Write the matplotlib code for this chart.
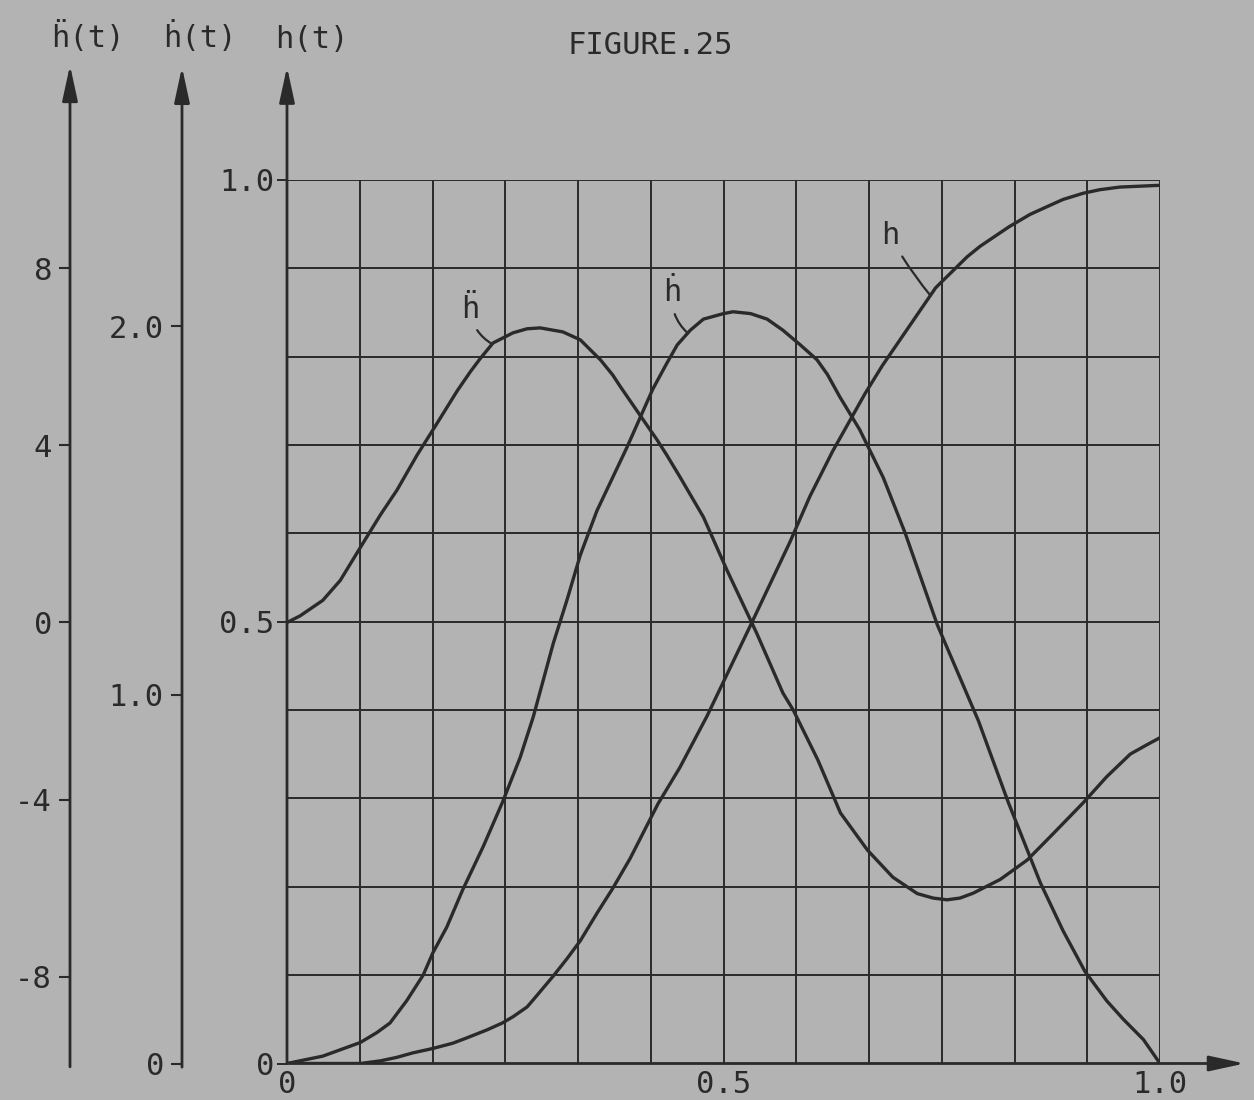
import numpy as np
import matplotlib
matplotlib.use('Agg')
import matplotlib.pyplot as plt

plt.rcParams['font.family'] = ['DejaVu Sans Mono', 'DejaVu Sans']

# h(t)
t_h = [0, 0.084, 0.107, 0.126, 0.144, 0.167, 0.190, 0.206, 0.229, 0.247, 0.259, 0.275,
       0.282, 0.305, 0.321, 0.336, 0.355, 0.373, 0.393, 0.425, 0.450, 0.481, 0.530, 0.576,
       0.599, 0.625, 0.662, 0.682, 0.743, 0.779, 0.794, 0.827, 0.851, 0.871, 0.889, 0.912,
       0.931, 0.954, 0.977, 1.0]
h = [0, 0.0, 0.003, 0.007, 0.012, 0.017, 0.023, 0.029, 0.038, 0.046, 0.053, 0.064,
     0.072, 0.099, 0.119, 0.139, 0.170, 0.198, 0.232, 0.294, 0.335, 0.393, 0.494, 0.590,
     0.642, 0.693, 0.758, 0.790, 0.878, 0.913, 0.925, 0.947, 0.961, 0.970, 0.978, 0.985,
     0.989, 0.992, 0.993, 0.994]

# h'(t)
t_hp = [0, 0.041, 0.084, 0.103, 0.118, 0.137, 0.156, 0.167, 0.183, 0.201, 0.213, 0.225,
        0.247, 0.267, 0.282, 0.305, 0.321, 0.336, 0.355, 0.373, 0.389, 0.404, 0.419, 0.435,
        0.447, 0.462, 0.477, 0.500, 0.511, 0.531, 0.550, 0.568, 0.588, 0.607, 0.619, 0.633,
        0.656, 0.683, 0.708, 0.745, 0.792, 0.826, 0.863, 0.889, 0.914, 0.939, 0.958, 0.981, 1.0]
hp = [0, 0.02, 0.057, 0.084, 0.11, 0.17, 0.24, 0.30, 0.37, 0.47, 0.53, 0.59,
      0.71, 0.83, 0.94, 1.14, 1.26, 1.38, 1.50, 1.59, 1.67, 1.75, 1.83, 1.90,
      1.95, 1.99, 2.02, 2.035, 2.04, 2.035, 2.02, 1.99, 1.95, 1.91, 1.87, 1.81,
      1.72, 1.59, 1.44, 1.19, 0.93, 0.71, 0.49, 0.36, 0.25, 0.17, 0.12, 0.065, 0.0]

# h''(t)
t_hpp = [0, 0.015, 0.041, 0.061, 0.087, 0.107, 0.126, 0.149, 0.172, 0.195, 0.210, 0.221,
         0.236, 0.259, 0.275, 0.290, 0.316, 0.336, 0.359, 0.373, 0.382, 0.404, 0.424, 0.435,
         0.450, 0.477, 0.504, 0.538, 0.568, 0.580, 0.608, 0.634, 0.665, 0.694, 0.722, 0.740,
         0.756, 0.771, 0.786, 0.817, 0.848, 0.877, 0.912, 0.939, 0.966, 0.985, 1.0]
hpp = [0, 0.15, 0.50, 0.95, 1.79, 2.43, 2.99, 3.78, 4.50, 5.23, 5.66, 5.95,
       6.31, 6.54, 6.63, 6.65, 6.56, 6.38, 5.93, 5.59, 5.32, 4.69, 4.12, 3.78,
       3.29, 2.38, 1.18, -0.24, -1.59, -1.98, -3.10, -4.30, -5.14, -5.75, -6.12, -6.22,
       -6.26, -6.22, -6.11, -5.80, -5.36, -4.78, -4.07, -3.48, -2.97, -2.76, -2.60]

x_ticks = [0, 0.5, 1.0]
x_labels = ['0', '0.5', '1.0']
h_ticks = [0, 0.5, 1.0]
h_labels = ['0', '0.5', '1.0']
hp_ticks = [0, 1, 2]
hp_labels = ['0', '1.0', '2.0']
hpp_ticks = [-8, -4, 0, 4, 8]
hpp_labels = ['-8', '-4', '0', '4', '8']

bg = '#b3b3b3'
ink = '#2a2a2a'
W, H = 1254, 1100
fs = 22

fig = plt.figure(figsize=(12.54, 11.0), dpi=100, facecolor=bg)
ax = fig.add_axes([287 / W, 1 - 1063.5 / H, 873 / W, 883.5 / H])
ax.set_facecolor(bg)
ax.set_xlim(0, 1)
ax.set_ylim(0, 1)

# papel milimetrado
ax.set_xticks(np.arange(13) / 12, minor=True)
ax.set_yticks(np.arange(11) / 10, minor=True)
ax.set_xticks(x_ticks)
ax.set_xticklabels(x_labels)
ax.set_yticks(h_ticks)
ax.set_yticklabels(h_labels)
ax.grid(True, which='both', color=ink, lw=1.4)
ax.tick_params(which='minor', length=0)
ax.tick_params(axis='x', length=0, pad=5, labelsize=fs, colors=ink)
ax.tick_params(axis='y', length=7, width=1.4, pad=2, labelsize=fs, colors=ink)
for s in ax.spines.values():
    s.set_visible(False)

ax2 = ax.twinx()
ax2.set_ylim(0, 883.5 / 368.5)
ax3 = ax.twinx()
ax3.set_ylim(-441 / 44.3, 442.5 / 44.3)

pos2 = (182 - 287) / 873
pos3 = (70 - 287) / 873
for a, p, tk, lb in [(ax2, pos2, hp_ticks, hp_labels), (ax3, pos3, hpp_ticks, hpp_labels)]:
    for s in a.spines.values():
        s.set_visible(False)
    a.spines['left'].set_position(('axes', p))
    a.yaxis.tick_left()
    a.set_yticks(tk)
    a.set_yticklabels(lb)
    a.tick_params(axis='y', length=8, width=1.5, pad=5, labelsize=fs, colors=ink)

# curvas
ax.plot(t_h, h, color=ink, lw=2.4, solid_joinstyle='round')
ax2.plot(t_hp, hp, color=ink, lw=2.4, solid_joinstyle='round')
ax3.plot(t_hpp, hpp, color=ink, lw=2.4, solid_joinstyle='round')

# ejes con flechas
arr = dict(arrowstyle='-|>,head_length=0.6,head_width=0.13', mutation_scale=36,
           lw=2.0, color=ink, shrinkA=0, shrinkB=0)
ax.annotate('', xy=(1.097, 0), xytext=(0, 0), arrowprops=arr, annotation_clip=False)
ax.annotate('', xy=(0, 1.128), xytext=(0, 0), arrowprops=arr, annotation_clip=False)
ax2.annotate('', xy=(pos2, 2.704), xytext=(pos2, -0.01), xycoords=('axes fraction', 'data'),
             textcoords=('axes fraction', 'data'), arrowprops=arr, annotation_clip=False)
ax3.annotate('', xy=(pos3, 12.58), xytext=(pos3, -10.03), xycoords=('axes fraction', 'data'),
             textcoords=('axes fraction', 'data'), arrowprops=arr, annotation_clip=False)

# etiquetas de las curvas
lead = dict(arrowstyle='-', lw=1.6, color=ink, shrinkA=3, shrinkB=0,
            connectionstyle='arc3,rad=0.25')
ta = 0.235
ax3.annotate('ḧ', xy=(ta, np.interp(ta, t_hpp, hpp)), xytext=(-16, 25),
             textcoords='offset points', ha='center', va='center', fontsize=fs,
             color=ink, arrowprops=lead)
tb = 0.459
ax2.annotate('ḣ', xy=(tb, np.interp(tb, t_hp, hp)), xytext=(-11, 29),
             textcoords='offset points', ha='center', va='center', fontsize=fs,
             color=ink, arrowprops=lead)
tc = 0.737
ax.annotate('h', xy=(tc, np.interp(tc, t_h, h)), xytext=(-29, 43),
            textcoords='offset points', ha='center', va='center', fontsize=fs,
            color=ink, arrowprops=dict(lead, connectionstyle='arc3,rad=0.05'))

fig.text(650 / W, 1 - 45 / H, 'FIGURE.25', ha='center', va='center', fontsize=fs, color=ink)
fig.text(88 / W, 1 - 37 / H, 'ḧ(t)', ha='center', va='center', fontsize=fs, color=ink)
fig.text(200 / W, 1 - 37 / H, 'ḣ(t)', ha='center', va='center', fontsize=fs, color=ink)
fig.text(312 / W, 1 - 40 / H, 'h(t)', ha='center', va='center', fontsize=fs, color=ink)

fig.savefig('out.png', dpi=100, facecolor=bg)
